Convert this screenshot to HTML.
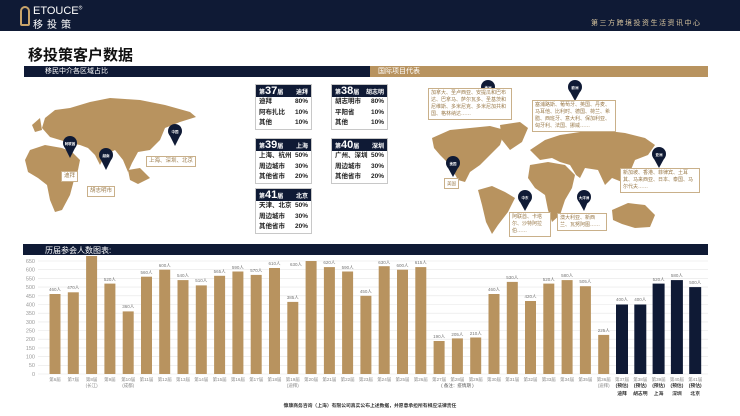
<!DOCTYPE html>
<html><head><meta charset="utf-8">
<style>
*{margin:0;padding:0;box-sizing:border-box}
body{width:740px;height:416px;background:#fff;position:relative;overflow:hidden;font-family:"Liberation Sans","Noto Sans CJK SC",sans-serif}
.abs{position:absolute}
.hdr{left:0;top:0;width:740px;height:31px;background:#0f1a35}
.tb{position:absolute;width:57px;border:1px solid #c8c8c8;background:#fff;font-size:6.5px;font-weight:bold;color:#222}
.tb .h{background:#0f1a35;color:#fff;height:12px;display:flex;justify-content:space-between;align-items:center;padding:0 3px;font-size:6px}
.tb .h b{font-size:11px}
.tb .r{display:flex;justify-content:space-between;padding:0 3px;height:10.5px;line-height:10.5px}
.box{position:absolute;border:1px solid #c9b08a;background:#fff;color:#9a7a4a;font-size:5px;line-height:7px;padding:1px 2px}
</style></head><body>
<div class="abs hdr"></div>
<div class="abs" style="left:20px;top:6px;width:10px;height:20px;border:2px solid #c9a46a;border-radius:5px 5px 2px 2px"></div>
<div class="abs" style="left:33px;top:5px;color:#fff;font-size:11px;letter-spacing:0px">ETOUCE<sup style="font-size:5px">®</sup></div>
<div class="abs" style="left:33px;top:16px;color:#fff;font-size:10px;letter-spacing:4px">移投策</div>
<div class="abs" style="left:591px;top:18px;color:#d9c6a0;font-size:7px;letter-spacing:1.5px">第三方跨境投资生活资讯中心</div>
<div class="abs" style="left:28px;top:44px;font-size:15px;font-weight:bold;color:#111">移投策客户数据</div>
<div class="abs" style="left:24px;top:66px;width:346px;height:11px;background:#0f1a35;color:#fff;font-size:7px;line-height:11px;padding-left:21px">移民中介各区域占比</div>
<div class="abs" style="left:370px;top:66px;width:338px;height:11px;background:#b8935f;color:#fff;font-size:7px;line-height:11px;padding-left:8px">国际项目代表</div>

<svg class="abs" style="left:0;top:0" width="740" height="416">
<g fill="#b8935f">
<path d="M30,150 L45,145 L62,148 L72,152 L80,160 L78,170 L74,180 L70,195 L62,210 L55,212 L50,200 L47,185 L38,178 L28,172 L25,160Z"/>
<path d="M45,118 L55,110 L70,108 L90,102 L110,98 L125,99 L140,100 L165,105 L190,112 L196,117 L180,122 L165,128 L160,140 L150,150 L138,152 L132,163 L128,172 L123,160 L115,150 L105,155 L100,165 L95,155 L88,148 L80,145 L70,143 L60,140 L50,137 L42,128Z"/>
<path d="M128,170 L140,168 L150,178 L138,184 L130,180Z"/>
<path d="M32,125 L40,118 L42,130 L35,132Z"/>
<path d="M432,138 L450,130 L470,128 L490,126 L505,130 L500,145 L490,155 L480,165 L470,172 L465,182 L458,180 L450,165 L440,155 L434,148Z"/>
<path d="M500,125 L520,122 L528,128 L522,142 L510,150 L502,140Z"/>
<path d="M478,190 L492,186 L505,192 L515,198 L508,212 L498,225 L492,234 L486,222 L482,205Z"/>
<path d="M530,150 L545,140 L560,135 L580,132 L600,130 L625,133 L645,138 L655,145 L648,155 L635,160 L630,172 L622,182 L612,178 L605,185 L598,170 L585,168 L580,178 L576,175 L570,165 L560,162 L552,158 L540,160 L535,155Z"/>
<path d="M530,165 L548,162 L565,165 L575,175 L572,188 L565,200 L560,215 L552,222 L548,210 L545,195 L535,188 L528,178Z"/>
<path d="M612,210 L628,203 L645,205 L655,215 L650,227 L635,228 L622,224 L613,220Z"/>
</g>
<g fill="#0f1a35">
<circle cx="70" cy="143" r="7"/><path d="M64,146 L70,158 L76,146Z"/>
<circle cx="106" cy="155" r="7"/><path d="M100,158 L106,170 L112,158Z"/>
<circle cx="175" cy="131" r="7"/><path d="M169,134 L175,146 L181,134Z"/>
<circle cx="488" cy="87" r="7"/><path d="M482,90 L488,101 L494,90Z"/>
<circle cx="575" cy="87" r="7"/><path d="M569,90 L575,101 L581,90Z"/>
<circle cx="659" cy="154" r="7"/><path d="M653,157 L659,168 L665,157Z"/>
<circle cx="453" cy="163" r="7"/><path d="M447,166 L453,177 L459,166Z"/>
<circle cx="525" cy="197" r="7"/><path d="M519,200 L525,211 L531,200Z"/>
<circle cx="584" cy="197" r="7"/><path d="M578,200 L584,211 L590,197Z"/>
</g>
<g font-size="3.5" fill="#fff" text-anchor="middle" font-weight="bold">
<text x="70" y="145">阿联酋</text><text x="106" y="157">越南</text><text x="175" y="133">中国</text>
<text x="488" y="89">美洲</text><text x="575" y="89">欧洲</text><text x="659" y="156">亚洲</text>
<text x="453" y="165">美国</text><text x="525" y="199">中东</text><text x="584" y="199">大洋洲</text>
</g>
<!-- chart -->
<rect x="23" y="244" width="685" height="11" fill="#0f1a35"/>
<text x="45" y="253" fill="#fff" font-size="8">历届参会人数图表:</text>
<g stroke="#e6e6e6" stroke-width="0.6">
<line x1="38" x2="708" y1="374" y2="374"/><line x1="38" x2="708" y1="365.3" y2="365.3"/><line x1="38" x2="708" y1="356.6" y2="356.6"/><line x1="38" x2="708" y1="347.9" y2="347.9"/><line x1="38" x2="708" y1="339.2" y2="339.2"/><line x1="38" x2="708" y1="330.5" y2="330.5"/><line x1="38" x2="708" y1="321.9" y2="321.9"/><line x1="38" x2="708" y1="313.2" y2="313.2"/><line x1="38" x2="708" y1="304.5" y2="304.5"/><line x1="38" x2="708" y1="295.8" y2="295.8"/><line x1="38" x2="708" y1="287.1" y2="287.1"/><line x1="38" x2="708" y1="278.4" y2="278.4"/><line x1="38" x2="708" y1="269.7" y2="269.7"/><line x1="38" x2="708" y1="261" y2="261"/>
</g>
<g font-size="5.5" fill="#999" text-anchor="end">
<text x="35" y="376">0</text><text x="35" y="367">50</text><text x="35" y="358.6">100</text><text x="35" y="350">150</text><text x="35" y="341">200</text><text x="35" y="332.5">250</text><text x="35" y="324">300</text><text x="35" y="315">350</text><text x="35" y="306.5">400</text><text x="35" y="298">450</text><text x="35" y="289">500</text><text x="35" y="280.4">550</text><text x="35" y="271.7">600</text><text x="35" y="263">650</text>
</g>
<g fill="#b8935f">
<rect x="49.5" y="294" width="11" height="80"/><rect x="67.8" y="292.3" width="11" height="81.7"/><rect x="86.1" y="256" width="11" height="118"/><rect x="104.4" y="283.6" width="11" height="90.4"/><rect x="122.7" y="311.4" width="11" height="62.6"/><rect x="141" y="276.7" width="11" height="97.3"/><rect x="159.2" y="269.7" width="11" height="104.3"/><rect x="177.5" y="280.1" width="11" height="93.9"/><rect x="195.8" y="285.4" width="11" height="88.6"/><rect x="214.1" y="275.8" width="11" height="98.2"/><rect x="232.4" y="271.5" width="11" height="102.5"/><rect x="250.7" y="274.9" width="11" height="99.1"/><rect x="269" y="268" width="11" height="106"/><rect x="287.3" y="301.9" width="11" height="72.1"/><rect x="305.6" y="261" width="11" height="113"/><rect x="323.9" y="267.1" width="11" height="106.9"/><rect x="342.1" y="271.5" width="11" height="102.5"/><rect x="360.4" y="295.8" width="11" height="78.2"/><rect x="378.7" y="266.2" width="11" height="107.8"/><rect x="397" y="269.7" width="11" height="104.3"/><rect x="415.3" y="267.1" width="11" height="106.9"/><rect x="433.6" y="341" width="11" height="33"/><rect x="451.9" y="338.4" width="11" height="35.6"/><rect x="470.2" y="337.5" width="11" height="36.5"/><rect x="488.5" y="294" width="11" height="80"/><rect x="506.8" y="281.9" width="11" height="92.1"/><rect x="525" y="301" width="11" height="73"/><rect x="543.3" y="283.6" width="11" height="90.4"/><rect x="561.6" y="280.1" width="11" height="93.9"/><rect x="579.9" y="286.2" width="11" height="87.8"/><rect x="598.2" y="334.9" width="11" height="39.1"/>
</g>
<g fill="#0f1a35">
<rect x="616" y="304.5" width="12" height="69.5"/><rect x="634.3" y="304.5" width="12" height="69.5"/><rect x="652.6" y="283.6" width="12" height="90.4"/><rect x="670.9" y="280.1" width="12" height="93.9"/><rect x="689.2" y="287.1" width="12" height="86.9"/>
</g>
<g font-size="4.5" fill="#777" text-anchor="middle">
<text x="55" y="291">460人</text><text x="73.3" y="289">470人</text><text x="109.9" y="281">520人</text><text x="128.2" y="308">360人</text><text x="146.5" y="274">560人</text><text x="164.7" y="267">600人</text><text x="183" y="277">540人</text><text x="201.3" y="282">510人</text><text x="219.6" y="273">565人</text><text x="237.9" y="269">590人</text><text x="256.2" y="272">570人</text><text x="274.5" y="265">610人</text><text x="292.8" y="299">385人</text><text x="296" y="266">630人</text><text x="329.4" y="264">620人</text><text x="347.6" y="269">590人</text><text x="365.9" y="293">450人</text><text x="384.2" y="264">630人</text><text x="402.5" y="267">600人</text><text x="420.8" y="264">615人</text><text x="439.1" y="338">190人</text><text x="457.4" y="336">205人</text><text x="475.7" y="335">210人</text><text x="494" y="291">460人</text><text x="512.3" y="279">530人</text><text x="530.5" y="298">420人</text><text x="548.8" y="281">520人</text><text x="567.1" y="277">580人</text><text x="585.4" y="283">505人</text><text x="603.7" y="332">225人</text><text x="622" y="301">400人</text><text x="640.3" y="301">400人</text><text x="658.6" y="281">520人</text><text x="676.9" y="277">580人</text><text x="695.2" y="284">500人</text>
</g>
<g font-size="4.5" fill="#888" text-anchor="middle">
<text x="55" y="381">第6届</text><text x="73.3" y="381">第7届</text><text x="91.6" y="381">第8届</text><text x="91.6" y="387">(长江)</text><text x="109.9" y="381">第9届</text><text x="128.2" y="381">第10届</text><text x="128.2" y="387">(成都)</text><text x="146.5" y="381">第11届</text><text x="164.7" y="381">第12届</text><text x="183" y="381">第13届</text><text x="201.3" y="381">第14届</text><text x="219.6" y="381">第15届</text><text x="237.9" y="381">第16届</text><text x="256.2" y="381">第17届</text><text x="274.5" y="381">第18届</text><text x="292.8" y="381">第19届</text><text x="292.8" y="387">(迪拜)</text><text x="311.1" y="381">第20届</text><text x="329.4" y="381">第21届</text><text x="347.6" y="381">第22届</text><text x="365.9" y="381">第23届</text><text x="384.2" y="381">第24届</text><text x="402.5" y="381">第25届</text><text x="420.8" y="381">第26届</text><text x="439.1" y="381">第27届</text><text x="457.4" y="381">第28届</text><text x="475.7" y="381">第29届</text><text x="457.4" y="387" fill="#555">( 备注：疫情期 )</text><text x="494" y="381">第30届</text><text x="512.3" y="381">第31届</text><text x="530.5" y="381">第32届</text><text x="548.8" y="381">第33届</text><text x="567.1" y="381">第34届</text><text x="585.4" y="381">第35届</text><text x="603.7" y="381">第36届</text><text x="603.7" y="387">(迪拜)</text>
<text x="622" y="381">第37届</text><text x="640.3" y="381">第38届</text><text x="658.6" y="381">第39届</text><text x="676.9" y="381">第40届</text><text x="695.2" y="381">第41届</text>
</g>
<g font-size="4.8" fill="#333" text-anchor="middle" font-weight="bold">
<text x="622" y="387">(预估)</text><text x="640.3" y="387">(预估)</text><text x="658.6" y="387">(预估)</text><text x="676.9" y="387">(预估)</text><text x="695.2" y="387">(预估)</text>
<text x="622" y="395">迪拜</text><text x="640.3" y="395">胡志明</text><text x="658.6" y="395">上海</text><text x="676.9" y="395">深圳</text><text x="695.2" y="395">北京</text>
</g>
<text x="370" y="407" font-size="4.8" fill="#333" font-weight="bold" text-anchor="middle">慷康商务咨询（上海）有限公司真实公布上述数据，并愿意承担所有相应法律责任</text>
</svg>

<div class="box" style="left:61px;top:171px;font-size:5.5px">迪拜</div>
<div class="box" style="left:87px;top:186px;font-size:5.5px">胡志明市</div>
<div class="box" style="left:146px;top:156px;font-size:5.5px">上海、深圳、北京</div>
<div class="box" style="left:428px;top:88px;width:84px">加拿大、圣卢西亚、安提瓜和巴布达、巴拿马、萨尔瓦多、圣基茨和尼维斯、多米尼克、多米尼加共和国、格林纳达……</div>
<div class="box" style="left:532px;top:100px;width:84px">塞浦路斯、葡萄牙、英国、丹麦、马耳他、比利时、德国、荷兰、希腊、西班牙、意大利、保加利亚、匈牙利、法国、挪威……</div>
<div class="box" style="left:620px;top:168px;width:80px">新加坡、香港、菲律宾、土耳其、马来西亚、日本、泰国、马尔代夫……</div>
<div class="box" style="left:444px;top:178px;font-size:4.5px">美国</div>
<div class="box" style="left:509px;top:212px;width:42px">阿联酋、卡塔尔、沙特阿拉伯……</div>
<div class="box" style="left:557px;top:213px;width:50px">澳大利亚、新西兰、瓦努阿图……</div>

<div class="tb" style="left:255px;top:84px"><div class="h"><span>第<b>37</b>届</span><span>迪拜</span></div><div class="r"><span>迪拜</span><span>80%</span></div><div class="r"><span>阿布扎比</span><span>10%</span></div><div class="r"><span>其他</span><span>10%</span></div></div>
<div class="tb" style="left:331px;top:84px"><div class="h"><span>第<b>38</b>届</span><span>胡志明</span></div><div class="r"><span>胡志明市</span><span>80%</span></div><div class="r"><span>平阳省</span><span>10%</span></div><div class="r"><span>其他</span><span>10%</span></div></div>
<div class="tb" style="left:255px;top:138px"><div class="h"><span>第<b>39</b>届</span><span>上海</span></div><div class="r"><span>上海、杭州</span><span>50%</span></div><div class="r"><span>周边城市</span><span>30%</span></div><div class="r"><span>其他省市</span><span>20%</span></div></div>
<div class="tb" style="left:331px;top:138px"><div class="h"><span>第<b>40</b>届</span><span>深圳</span></div><div class="r"><span>广州、深圳</span><span>50%</span></div><div class="r"><span>周边城市</span><span>30%</span></div><div class="r"><span>其他省市</span><span>20%</span></div></div>
<div class="tb" style="left:255px;top:188px"><div class="h"><span>第<b>41</b>届</span><span>北京</span></div><div class="r"><span>天津、北京</span><span>50%</span></div><div class="r"><span>周边城市</span><span>30%</span></div><div class="r"><span>其他省市</span><span>20%</span></div></div>
</body></html>
